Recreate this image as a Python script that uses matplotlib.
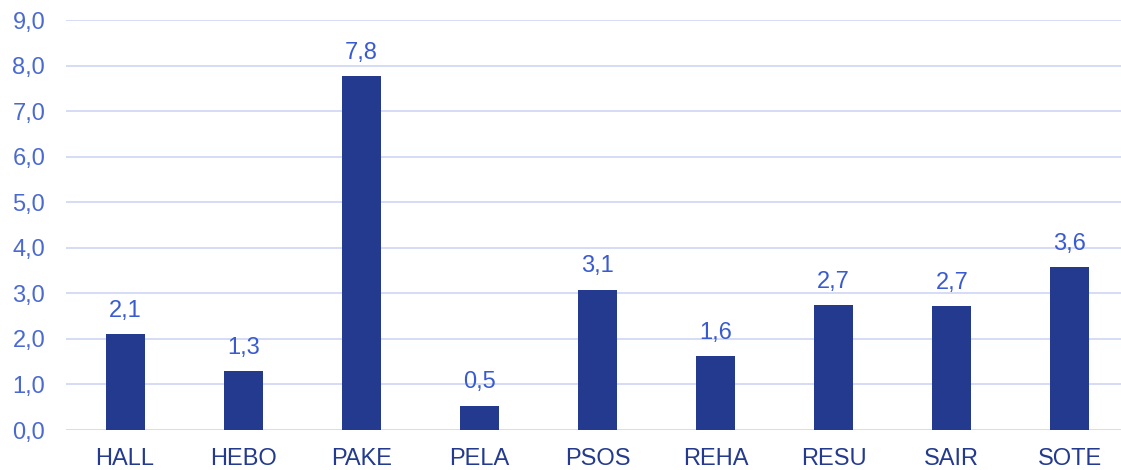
import matplotlib
matplotlib.use("Agg")
import matplotlib.pyplot as plt
from matplotlib.ticker import FuncFormatter

categories = ["HALL", "HEBO", "PAKE", "PELA", "PSOS", "REHA", "RESU", "SAIR", "SOTE"]
values = [2.10, 1.29, 7.76, 0.53, 3.08, 1.62, 2.74, 2.72, 3.57]

plt.rcParams["font.family"] = ["Liberation Sans", "DejaVu Sans"]

bar_color = "#233A8F"
label_color = "#3A5BD0"
tick_color = "#4A6AD2"
grid_color = "#D5DCF5"
fs = 17

fig = plt.figure(figsize=(11.21, 4.70), dpi=100)
ax = fig.add_axes([66 / 1121, 40 / 470, 1063 / 1121, 410 / 470])

x = list(range(len(categories)))
ax.bar(x, values, width=0.33, color=bar_color, zorder=3)

for xi, v in zip(x, values):
    ax.annotate(f"{v:.1f}".replace(".", ","), (xi, v), xytext=(0, 9),
                textcoords="offset points", ha="center", va="bottom",
                fontsize=fs, color=label_color, zorder=4)

ax.set_xlim(-0.5, len(categories) - 0.5)
ax.set_ylim(0, 9)
ax.set_yticks(range(0, 10))
ax.yaxis.set_major_formatter(FuncFormatter(lambda v, p: f"{v:.1f}".replace(".", ",")))
ax.set_xticks(x)
ax.set_xticklabels(categories)

ax.grid(axis="y", color=grid_color, linewidth=1.4, zorder=0)
for s in ax.spines.values():
    s.set_visible(False)
ax.tick_params(axis="both", length=0)
ax.tick_params(axis="y", labelcolor=tick_color, labelsize=fs, pad=15)
ax.tick_params(axis="x", labelcolor=bar_color, labelsize=fs, pad=13)

fig.savefig("out.png", dpi=100)
